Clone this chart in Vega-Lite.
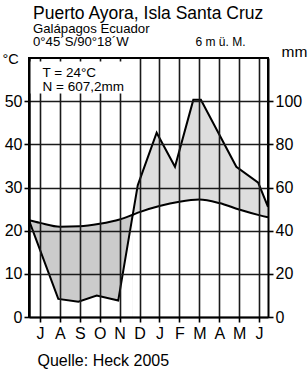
{
  "$schema": "https://vega.github.io/schema/vega-lite/v6.json",
  "width": 239,
  "height": 259,
  "autosize": {"type": "none"},
  "padding": {"left": 29, "top": 58, "right": 40, "bottom": 55},
  "background": "white",
  "title": {
    "text": "Puerto Ayora, Isla Santa Cruz",
    "subtitle": ["Galápagos Ecuador", "0°45´S/90°18´W"],
    "anchor": "start",
    "frame": "group",
    "dx": 4,
    "offset": -13,
    "font": "Liberation Sans",
    "fontSize": 17.5,
    "fontWeight": "normal",
    "color": "black",
    "subtitleFont": "Liberation Sans",
    "subtitleFontSize": 13.2,
    "subtitleColor": "black",
    "subtitlePadding": 0,
    "subtitleLineHeight": 13
  },
  "datasets": {
    "temp": [
      {"m": 0.45, "t": 22.4},
      {"m": 1, "t": 21.8},
      {"m": 2, "t": 20.9},
      {"m": 3, "t": 21.0},
      {"m": 4, "t": 21.6},
      {"m": 5, "t": 22.6},
      {"m": 5.66, "t": 23.7},
      {"m": 6, "t": 24.3},
      {"m": 7, "t": 25.7},
      {"m": 8, "t": 26.7},
      {"m": 9, "t": 27.2},
      {"m": 10, "t": 26.4},
      {"m": 11, "t": 24.9},
      {"m": 12, "t": 23.6},
      {"m": 12.45, "t": 23.1}
    ],
    "prec": [
      {"m": 0.45, "p": 44.8},
      {"m": 1.92, "p": 8.4},
      {"m": 2.93, "p": 7.1},
      {"m": 3.85, "p": 9.9},
      {"m": 4.93, "p": 7.6},
      {"m": 5.66, "p": 47.4},
      {"m": 5.91, "p": 61},
      {"m": 6.86, "p": 85.4},
      {"m": 7.78, "p": 69.6},
      {"m": 8.7, "p": 100.6},
      {"m": 9.08, "p": 100.6},
      {"m": 10.86, "p": 69.6},
      {"m": 11.96, "p": 62.2},
      {"m": 12.45, "p": 51}
    ]
  },
  "encoding": {
    "x": {
      "field": "m",
      "type": "quantitative",
      "scale": {"domain": [0.45, 12.45], "nice": false, "zero": false},
      "axis": {
        "values": [1, 2, 3, 4, 5, 6, 7, 8, 9, 10, 11, 12],
        "labelExpr": "['J','A','S','O','N','D','J','F','M','A','M','J'][datum.value - 1]",
        "grid": true,
        "gridColor": "#1a1a1a",
        "gridWidth": 1.6,
        "gridOpacity": 1,
        "tickSize": 5,
        "tickColor": "black",
        "tickWidth": 1.6,
        "domain": true,
        "domainColor": "black",
        "domainWidth": 2,
        "labelPadding": 3,
        "labelFontSize": 16,
        "labelColor": "black",
        "labelFlush": false,
        "labelOverlap": false,
        "title": "Quelle: Heck 2005",
        "titleAnchor": "start",
        "titleAlign": "left",
        "titleBaseline": "alphabetic",
        "titleX": 8,
        "titleY": 48.7,
        "titleFontSize": 16,
        "titleFontWeight": "normal",
        "titleColor": "black",
        "zindex": 1
      }
    }
  },
  "layer": [
    {
      "data": {"name": "temp"},
      "transform": [{"filter": "datum.m <= 5.66"}],
      "mark": {"type": "area", "interpolate": "monotone", "fill": "#cbcbcb", "stroke": null},
      "encoding": {"y": {
        "field": "t", "type": "quantitative", "scale": {"domain": [0, 60], "nice": false},
        "axis": {
          "orient": "left",
          "values": [55.66],
          "labels": false,
          "grid": false,
          "domain": false,
          "ticks": true,
          "tickColor": "white",
          "tickSize": -102,
          "tickWidth": 32,
          "tickCap": "butt",
          "title": ["T = 24°C", "N = 607,2mm"],
          "titleAngle": 0,
          "titleAlign": "left",
          "titleBaseline": "alphabetic",
          "titleX": 13,
          "titleY": 18.7,
          "titleFontSize": 13.5,
          "titleLineHeight": 13.6,
          "titleFontWeight": "normal",
          "titleColor": "black",
          "zindex": 2
        }
      }}
    },
    {
      "data": {"name": "prec"},
      "transform": [{"filter": "datum.m >= 5.66"}],
      "mark": {"type": "area", "interpolate": "linear", "fill": "#dedede", "stroke": null},
      "encoding": {"y": {
        "field": "p", "type": "quantitative", "scale": {"domain": [0, 120], "nice": false},
        "axis": {
          "orient": "right",
          "labels": false,
          "ticks": false,
          "grid": false,
          "domain": false,
          "title": "6 m ü. M.",
          "titleAngle": 0,
          "titleAlign": "right",
          "titleBaseline": "alphabetic",
          "titleX": -23,
          "titleY": -13,
          "titleFontSize": 12,
          "titleFontWeight": "normal",
          "titleColor": "black"
        }
      }}
    },
    {
      "data": {"name": "prec"},
      "transform": [{"filter": "datum.m <= 5.66"}],
      "mark": {"type": "area", "interpolate": "linear", "fill": "white", "stroke": null},
      "encoding": {"y": {
        "field": "p", "type": "quantitative", "scale": {"domain": [0, 120], "nice": false},
        "axis": {
          "orient": "left",
          "labels": false,
          "ticks": false,
          "grid": false,
          "domain": true,
          "domainColor": "black",
          "domainWidth": 2,
          "title": null,
          "zindex": 3
        }
      }}
    },
    {
      "data": {"name": "temp"},
      "transform": [{"filter": "datum.m >= 5.66"}],
      "mark": {"type": "area", "interpolate": "monotone", "fill": "white", "stroke": null},
      "encoding": {"y": {"field": "t", "type": "quantitative", "scale": {"domain": [0, 60], "nice": false}, "axis": null}}
    },
    {
      "data": {"name": "temp"},
      "mark": {"type": "line", "interpolate": "monotone", "stroke": "black", "strokeWidth": 2},
      "encoding": {
        "y": {
          "field": "t",
          "type": "quantitative",
          "scale": {"domain": [0, 60], "nice": false},
          "axis": {
            "orient": "left",
            "values": [0, 10, 20, 30, 40, 50],
            "grid": true,
            "gridColor": "#1a1a1a",
            "gridWidth": 1.6,
            "gridOpacity": 1,
            "tickSize": 5,
            "tickColor": "black",
            "tickWidth": 1.6,
            "domain": true,
            "domainColor": "black",
            "domainWidth": 2,
            "labelPadding": 2,
            "labelFontSize": 16,
            "labelColor": "black",
            "labelFlush": false,
            "title": "°C",
            "titleAngle": 0,
            "titleAlign": "left",
            "titleBaseline": "alphabetic",
            "titleX": -27,
            "titleY": 5,
            "titleFontSize": 14.5,
            "titleFontWeight": "normal",
            "titleColor": "black",
            "zindex": 1
          }
        }
      }
    },
    {
      "data": {"name": "prec"},
      "mark": {"type": "line", "interpolate": "linear", "stroke": "black", "strokeWidth": 2},
      "encoding": {
        "y": {
          "field": "p",
          "type": "quantitative",
          "scale": {"domain": [0, 120], "nice": false},
          "axis": {
            "orient": "right",
            "values": [0, 20, 40, 60, 80, 100],
            "grid": false,
            "tickSize": 5,
            "tickColor": "black",
            "tickWidth": 1.6,
            "domain": true,
            "domainColor": "black",
            "domainWidth": 2,
            "labelPadding": 2,
            "labelFontSize": 16,
            "labelColor": "black",
            "labelFlush": false,
            "title": "mm",
            "titleAngle": 0,
            "titleAlign": "left",
            "titleBaseline": "alphabetic",
            "titleX": 13,
            "titleY": -2,
            "titleFontSize": 15.5,
            "titleFontWeight": "normal",
            "titleColor": "black",
            "zindex": 1
          }
        }
      }
    }
  ],
  "resolve": {"scale": {"y": "independent"}, "axis": {"y": "independent"}},
  "config": {
    "view": {"stroke": "black", "strokeWidth": 2},
    "font": "Liberation Sans",
    "axis": {"labelFont": "Liberation Sans", "titleFont": "Liberation Sans"}
  }
}
